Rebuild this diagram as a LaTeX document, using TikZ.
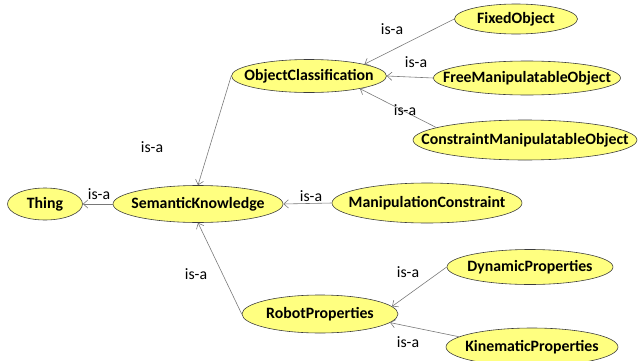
\documentclass[tikz,border=0pt]{standalone}
\usepackage{fontspec}
\setmainfont{Carlito}
\usetikzlibrary{shapes.geometric,arrows.meta}
\definecolor{cfill}{RGB}{255,255,128}
\definecolor{cline}{RGB}{60,60,60}
\definecolor{cedge}{RGB}{120,120,120}
\newcommand{\zt}[1]{\makebox[0pt][c]{#1}}
\tikzset{
  cls/.style={ellipse,draw=cline,line width=0.5pt,fill=cfill,inner sep=0pt,
    font=\fontsize{13.5}{15}\selectfont\bfseries},
  isa/.style={draw=cedge,line width=0.5pt,-{Straight Barb[length=4pt,width=7pt]}},
  lbl/.style={font=\fontsize{13.5}{15}\selectfont,inner sep=0pt}
}
\begin{document}
\begin{tikzpicture}[x=0.03cm,y=-0.03cm]
\useasboundingbox (0,0) rectangle (640,360);
\begin{scope}
\clip (0,0) rectangle (640,360);
\node[cls,minimum width=75*0.03cm,minimum height=32*0.03cm] (thing) at (45,204) {\zt{Thing}};
\node[cls,minimum width=170*0.03cm,minimum height=37*0.03cm] (sk) at (198,204) {\zt{SemanticKnowledge}};
\node[cls,minimum width=155*0.03cm,minimum height=33*0.03cm] (oc) at (309,76) {\zt{ObjectClassification}};
\node[cls,minimum width=123*0.03cm,minimum height=30*0.03cm] (fo) at (516,19) {\zt{FixedObject}};
\node[cls,minimum width=187*0.03cm,minimum height=34*0.03cm] (free) at (527,78) {\zt{FreeManipulatableObject}};
\node[cls,minimum width=224*0.03cm,minimum height=40*0.03cm] (cmo) at (525,140) {\zt{ConstraintManipulatableObject}};
\node[cls,minimum width=190*0.03cm,minimum height=40*0.03cm] (mc) at (427,203) {\zt{ManipulationConstraint}};
\node[cls,minimum width=156*0.03cm,minimum height=38*0.03cm] (rp) at (320,314) {\zt{RobotProperties}};
\node[cls,minimum width=166*0.03cm,minimum height=35*0.03cm] (dp) at (530,267) {\zt{DynamicProperties}};
\node[cls,minimum width=172*0.03cm,minimum height=38*0.03cm] (kp) at (532,347) {\zt{KinematicProperties}};
\end{scope}
\draw[isa] (sk.west) -- (thing.east);
\draw[isa] (oc.west) -- (sk.north);
\draw[isa] (mc.west) -- (sk.east);
\draw[isa] (rp.west) -- (sk.south);
\draw[isa] (fo.west) -- (oc.12);
\draw[isa] (free.west) -- (oc.east);
\draw[isa] (cmo.172) -- (oc.-14);
\draw[isa] (dp.west) -- (rp.6);
\draw[isa] (kp.172) -- (rp.-7);
\node[lbl] (l1) at (99,194) {is-a};
\node[lbl] (l2) at (152,147) {is-a};
\node[lbl] (l3) at (311,196) {is-a};
\node[lbl] (l4) at (196,274) {is-a};
\node[lbl] (l5) at (392,29) {is-a};
\node[lbl] (l6) at (416,62) {is-a};
\node[lbl] (l7) at (405,110) {is-a};
\node[lbl] (l8) at (408,272) {is-a};
\node[lbl] (l9) at (408,342) {is-a};
\end{tikzpicture}
\end{document}
